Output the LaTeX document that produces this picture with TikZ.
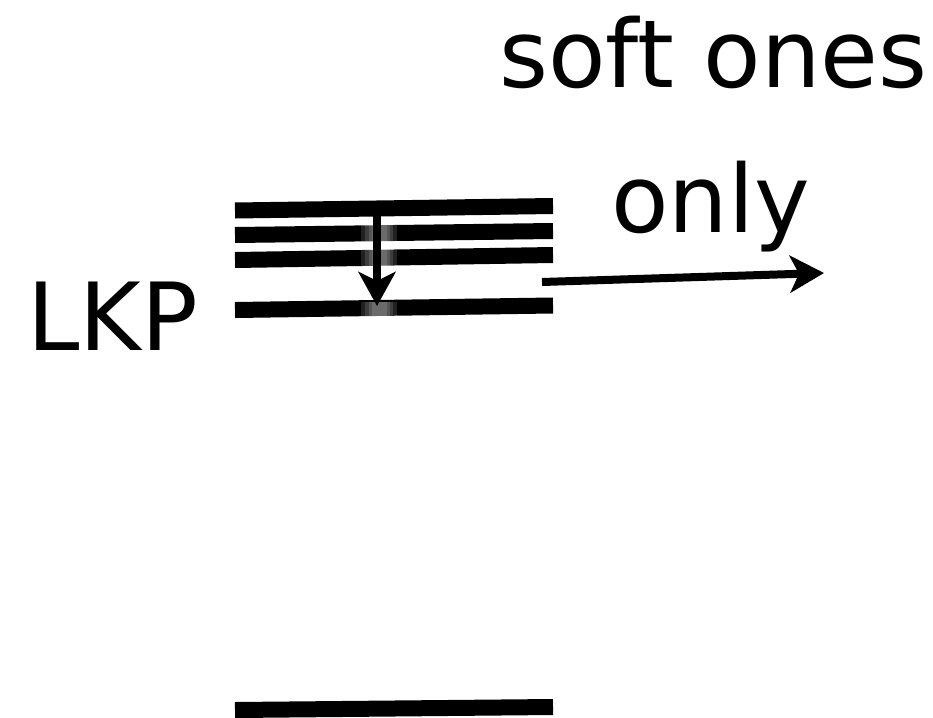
\documentclass[tikz,border=0pt]{standalone}
\usepackage{fontspec}
\setmainfont{DejaVu Sans}
\usetikzlibrary{arrows.meta}
\begin{document}
\begin{tikzpicture}[x=1pt,y=-1pt,
  level/.style={line width=16pt,line cap=butt,black},
  arr/.style={line width=8pt,black,-{Stealth[length=34pt,width=37pt,inset=9pt]}},
  glow/.style={white,opacity=0.13,line cap=butt},
  lbl/.style={inner sep=0pt,anchor=base west,font=\fontsize{94}{94}\selectfont}]
\useasboundingbox (0,0) rectangle (933,717);
% energy levels
\coordinate (l1a) at (235,210.5); \coordinate (l1b) at (553,206);
\coordinate (l2a) at (235,235);   \coordinate (l2b) at (553,231);
\coordinate (l3a) at (235,260);   \coordinate (l3b) at (553,255);
\coordinate (l4a) at (235,310);   \coordinate (l4b) at (553,305.5);
\coordinate (l5a) at (235,710);   \coordinate (l5b) at (553,707);
\draw[level] (l1a) -- (l1b);
\draw[level] (l2a) -- (l2b);
\draw[level] (l3a) -- (l3b);
\draw[level] (l4a) -- (l4b);
\draw[level] (l5a) -- (l5b);
% glow around the transition
\foreach \w in {36,28,21,15}{
  \draw[glow,line width=\w pt] (379,224) -- (379,268);
  \draw[glow,line width=\w pt] (379,302) -- (379,318);
}
% arrows
\coordinate (vs) at (377,203); \coordinate (ve) at (377,306);
\draw[arr] (vs) -- (ve);
\coordinate (hs) at (542,282); \coordinate (he) at (824,273);
\draw[arr] (hs) -- (he);
% labels
\node[lbl] (soft) at (499,87) {soft ones};
\node[lbl] (only) at (611,232) {only};
\node[lbl] (lkp) at (27,350) {LKP};
\end{tikzpicture}
\end{document}
